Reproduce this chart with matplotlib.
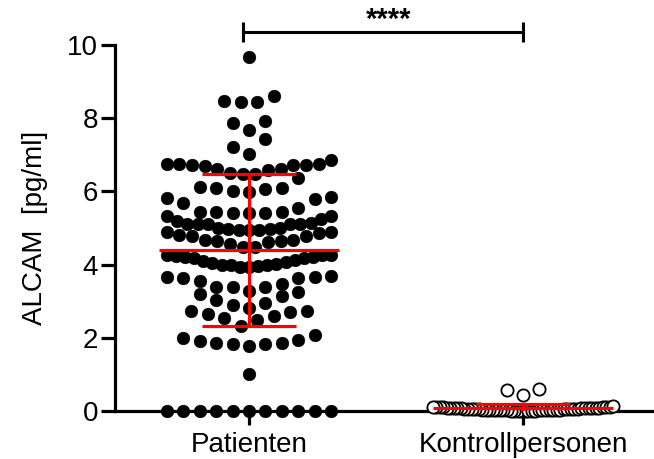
import numpy as np
import matplotlib
matplotlib.use("Agg")
import matplotlib.pyplot as plt

plt.rcParams['font.family'] = ['Liberation Sans', 'DejaVu Sans']

# ALCAM values (pg/ml)
patienten = [
    9.67, 8.60, 8.47, 8.44, 8.44, 7.92, 7.86, 7.67, 7.42, 7.21, 7.01,
    6.85, 6.76, 6.74, 6.74, 6.73, 6.71, 6.71, 6.69, 6.62, 6.62, 6.58, 6.51, 6.48, 6.47,
    6.37, 6.11, 6.09, 6.09, 6.06, 6.00, 5.98,
    5.84, 5.81, 5.78, 5.67, 5.55, 5.43, 5.43, 5.43, 5.41, 5.40, 5.40,
    5.34, 5.32, 5.25, 5.18, 5.15, 5.12, 5.12, 5.12, 5.12, 5.11,
    4.99, 4.99, 4.96, 4.96, 4.95, 4.94, 4.94,
    4.90, 4.88, 4.85, 4.81, 4.79, 4.79, 4.68, 4.68, 4.64, 4.64, 4.61, 4.57, 4.47, 4.47,
    4.27, 4.27, 4.25, 4.23, 4.22, 4.20, 4.18, 4.18, 4.13, 4.11, 4.06, 4.05,
    4.02, 4.00, 3.99, 3.99, 3.95, 3.93, 3.93,
    3.70, 3.65, 3.65, 3.64, 3.64, 3.56, 3.47, 3.40, 3.38, 3.38, 3.29,
    3.24, 3.20, 3.15, 3.04, 2.95, 2.90, 2.82,
    2.74, 2.72, 2.71, 2.65, 2.60, 2.53, 2.49, 2.31,
    2.07, 1.99, 1.95, 1.92, 1.87, 1.87, 1.84, 1.83, 1.78,
    1.02,
    0, 0, 0, 0, 0, 0, 0, 0, 0, 0, 0,
]
kontrollen = [
    0.59, 0.57, 0.45,
    0.13, 0.12, 0.12, 0.11, 0.11, 0.10, 0.10, 0.10, 0.09, 0.09, 0.09,
    0.08, 0.08, 0.08, 0.08, 0.07, 0.07, 0.07, 0.07,
    0.06, 0.06, 0.06, 0.06, 0.06, 0.05, 0.05, 0.05, 0.05, 0.05,
    0.04, 0.04, 0.04, 0.04, 0.04, 0.03, 0.03, 0.03, 0.03, 0.03,
    0.02, 0.02, 0.02, 0.02, 0.02, 0.01, 0.01, 0.01, 0.01,
    0, 0, 0, 0,
]
gruppen = ['Patienten', 'Kontrollpersonen']
signif = '****'


def swarm(values, center, row_span, step, half_width):
    # rows of similar values, sorted values placed from the middle outwards
    vals = np.sort(np.asarray(values, dtype=float))
    x = np.zeros(len(vals))
    start = 0
    for i in range(1, len(vals) + 1):
        if i == len(vals) or vals[i] - vals[start] > row_span:
            n = i - start
            sp = step if n < 2 else min(step, 2 * half_width / (n - 1))
            pos = (np.arange(n) - (n - 1) / 2) * sp
            slots = sorted(range(n), key=lambda k: (abs(pos[k]), pos[k]))
            for j, k in zip(range(start, i), slots):
                x[j] = pos[k]
            start = i
    return center + x, vals


def mean_sd(ax, values, center):
    m = np.mean(values)
    sd = np.std(values, ddof=1)
    kw = dict(color='#ff0000', lw=2.3, zorder=5)
    ax.hlines(m, center - 0.33, center + 0.33, **kw)
    ax.hlines([m - sd, m + sd], center - 0.17, center + 0.17, **kw)
    ax.vlines(center, m - sd, m + sd, **kw)


fig = plt.figure(figsize=(6.54, 4.59), dpi=100)
ax = fig.add_axes([115 / 654, 48 / 459, 537 / 654, 366 / 459])

xp, yp = swarm(patienten, 0, 0.445, 0.06, 0.30)
ax.plot(xp, yp, 'o', ms=9.2, color='black', mec='black', mew=0.3,
        clip_on=False, zorder=3)
xk, yk = swarm(kontrollen, 1, 0.445, 0.06, 0.33)
ax.plot(xk, yk, 'o', ms=8.8, mfc='white', mec='black', mew=1.3,
        clip_on=False, zorder=3)

mean_sd(ax, patienten, 0)
mean_sd(ax, kontrollen, 1)

# significance bracket
yb = 10.36
ax.plot([-0.02, 1.0], [yb, yb], color='black', lw=2.2, clip_on=False)
ax.vlines([-0.02, 1.0], 10.08, 10.63, color='black', lw=2.2, clip_on=False)
ax.text(0.51, 10.30, signif, ha='center', va='bottom', fontsize=21,
        fontweight='bold', clip_on=False)

ax.set_xlim(-0.489, 1.471)
ax.set_ylim(0, 10)
ax.set_yticks([0, 2, 4, 6, 8, 10])
ax.set_xticks([0, 1])
ax.set_xticklabels(gruppen)
ax.set_ylabel('ALCAM  [pg/ml]', fontsize=20, labelpad=14)

for s in ['top', 'right']:
    ax.spines[s].set_visible(False)
for s in ['left', 'bottom']:
    ax.spines[s].set_linewidth(2.3)
ax.tick_params(axis='both', labelsize=20, width=2.3, length=10, pad=2)
ax.tick_params(axis='x', pad=5)

fig.savefig('out.png', dpi=100)
